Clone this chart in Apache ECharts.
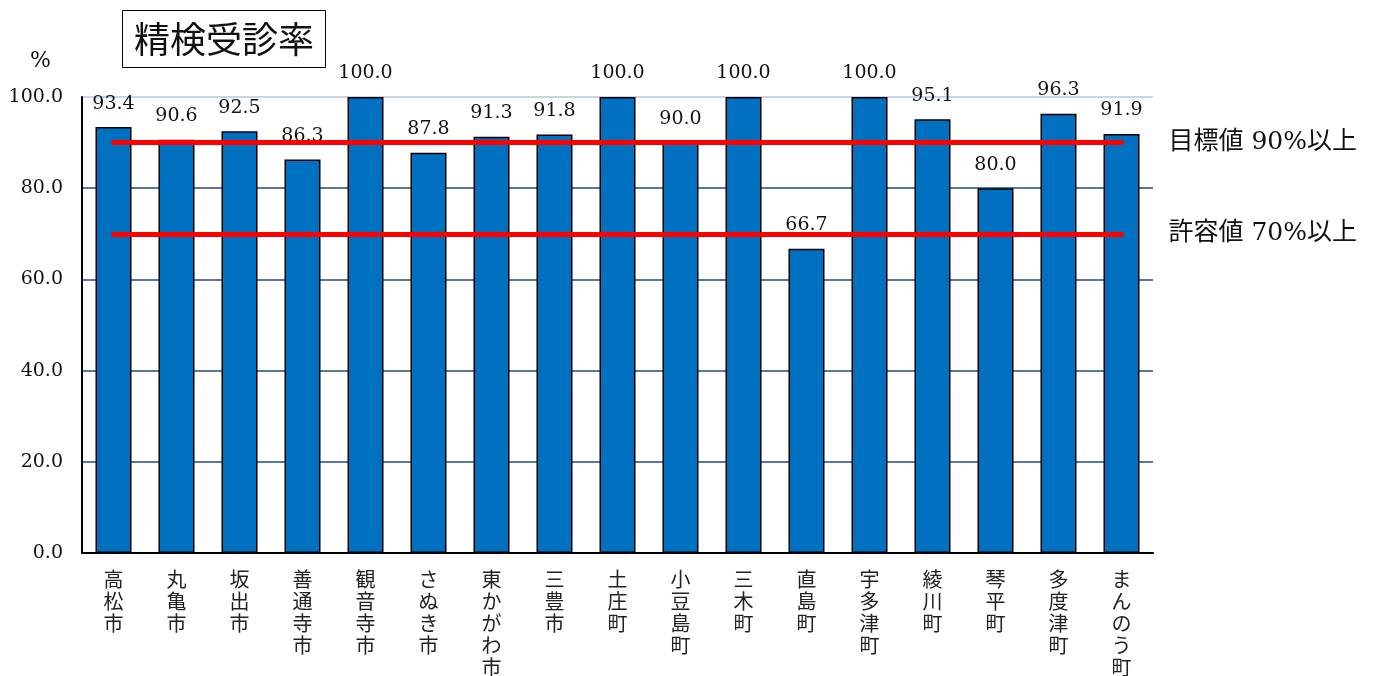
<!DOCTYPE html>
<html>
<head>
<meta charset="utf-8">
<script src="https://cdn.jsdelivr.net/npm/echarts@6/dist/echarts.min.js"></script>
<style>html,body{margin:0;padding:0;background:#fff}#c{width:1386px;height:676px}</style>
</head>
<body>
<div id="c"></div>
<script>
const categories = ['高松市','丸亀市','坂出市','善通寺市','観音寺市','さぬき市','東かがわ市','三豊市','土庄町','小豆島町','三木町','直島町','宇多津町','綾川町','琴平町','多度津町','まんのう町'];
const rates = [93.4, 90.6, 92.5, 86.3, 100.0, 87.8, 91.3, 91.8, 100.0, 90.0, 100.0, 66.7, 100.0, 95.1, 80.0, 96.3, 91.9];
const targetValue = 90;
const toleranceValue = 70;
const targetLabel = '目標値 90%以上';
const toleranceLabel = '許容値 70%以上';
const yTicks = [0, 20, 40, 60, 80, 100];

const serif = '"DejaVu Serif", "Liberation Serif", "Noto Sans CJK JP", serif';
const jp = '"Noto Sans CJK JP", sans-serif';
const chart = echarts.init(document.getElementById('c'), null, {renderer: 'canvas'});
const last = categories.length - 1;
chart.setOption({
  animation: false,
  title: {
    text: '精検受診率',
    left: 122, top: 10,
    padding: [7, 12, 7, 12],
    borderColor: '#000', borderWidth: 1,
    textStyle: {fontFamily: jp, fontWeight: 'normal', fontSize: 36, color: '#111', lineHeight: 44}
  },
  graphic: [
    {type: 'text', left: 30, top: 50, style: {text: '%', font: '22px ' + serif, fill: '#111'}}
  ],
  grid: {left: 82, right: 233, top: 97, bottom: 123, containLabel: false, outerBoundsMode: 'none'},
  xAxis: {
    type: 'category',
    data: categories,
    axisLine: {lineStyle: {color: '#000', width: 2}},
    axisTick: {show: false},
    axisLabel: {
      interval: 0, margin: 15,
      fontFamily: jp, fontSize: 20, lineHeight: 22, color: '#222',
      formatter: v => v.split('').join('\n')
    }
  },
  yAxis: {
    type: 'value', min: yTicks[0], max: yTicks[yTicks.length - 1], interval: 20,
    axisLine: {show: true, lineStyle: {color: '#000', width: 2}},
    axisTick: {show: false},
    axisLabel: {margin: 19, fontFamily: serif, fontSize: 19, color: '#111', formatter: v => v.toFixed(1)},
    splitLine: {lineStyle: {color: ['#1f4e79', '#1f4e79', '#1f4e79', '#1f4e79', '#1f4e79', '#b4c7dc'], width: 1.5}}
  },
  series: [{
    type: 'bar',
    data: rates,
    barWidth: 36,
    itemStyle: {color: '#0070c0', borderColor: '#000', borderWidth: 1.5},
    label: {show: true, position: 'top', distance: 14, fontFamily: serif, fontSize: 19, color: '#111', formatter: p => p.value.toFixed(1)},
    markLine: {
      silent: true,
      symbol: ['none', 'none'],
      lineStyle: {color: '#ff0000', width: 5, type: 'solid', cap: 'round'},
      label: {show: true, position: 'end', distance: 47, fontFamily: serif, fontSize: 25, color: '#111', formatter: p => p.name},
      data: [
        [{coord: [0, targetValue], name: targetLabel, label: {padding: [26, 0, 0, 0]}}, {coord: [last, targetValue]}],
        [{coord: [0, toleranceValue], name: toleranceLabel, label: {padding: [12, 0, 0, 0]}}, {coord: [last, toleranceValue]}]
      ]
    }
  }]
});
</script>
</body>
</html>
